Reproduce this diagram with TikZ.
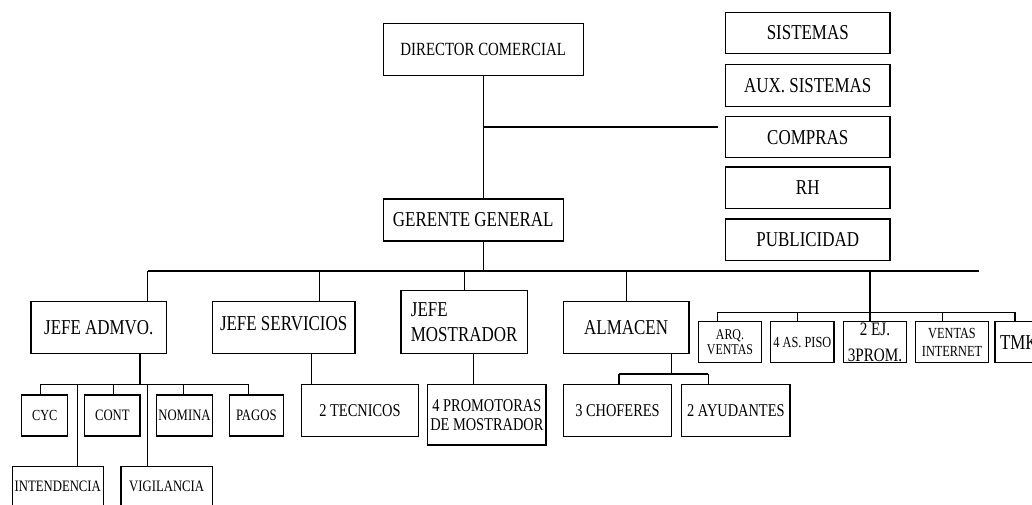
\documentclass[tikz,border=0pt]{standalone}
\usepackage{fontspec}
\setmainfont{Liberation Serif}[FakeStretch=0.8]
\newcommand\fsz[2]{\fontsize{#1}{#2}\selectfont}
\begin{document}
\begin{tikzpicture}[x=1pt,y=-1pt,
  box/.style={draw, line width=1.1pt, inner sep=0pt, align=center},
  conn/.style={line width=1.1pt},
  big/.style={font=\fsz{21.2}{25}},
  mid/.style={font=\fsz{18}{19}},
  sml/.style={font=\fsz{15.9}{18}}]
\useasboundingbox (0,0) rectangle (1032,504);
\clip (0,0) rectangle (1032,504);

% top level
\node[box, minimum width=199.7pt, minimum height=52pt, font=\fsz{18.6}{21}] (dir) at (483.2,49.25) {DIRECTOR COMERCIAL};
\node[box, big, minimum width=180pt, minimum height=42pt] (gg) at (473.3,220) {\raisebox{2pt}{GERENTE GENERAL}};

% staff column
\node[box, big, minimum width=164.5pt, minimum height=41pt] (sis) at (807.75,32.8) {SISTEMAS};
\node[box, big, minimum width=164.5pt, minimum height=41.7pt] (aux) at (807.75,85.2) {AUX. SISTEMAS};
\node[box, big, minimum width=164.5pt, minimum height=41pt] (com) at (807.75,137.1) {COMPRAS};
\node[box, big, minimum width=164.5pt, minimum height=41.5pt] (rh) at (807.75,187.75) {RH};
\node[box, big, minimum width=164.5pt, minimum height=41.5pt] (pub) at (807.75,239.75) {PUBLICIDAD};

% second level
\node[box, big, minimum width=135.7pt, minimum height=51.6pt] (adm) at (98.85,327.5) {\raisebox{-4pt}{JEFE ADMVO.}};
\node[box, big, minimum width=142.7pt, minimum height=51.6pt] (ser) at (283.65,327.5) {\raisebox{9pt}{JEFE SERVICIOS}};
\node[box, big, minimum width=126.3pt, minimum height=62.8pt, align=left] (mos) at (464.15,322.1) {JEFE\\MOSTRADOR};
\node[box, big, minimum width=125.7pt, minimum height=51.6pt] (alm) at (626.15,327.5) {ALMACEN};

% ventas group
\node[box, font=\fsz{14.9}{15}, minimum width=63.4pt, minimum height=41pt] (arq) at (730,342.2) {ARQ.\\VENTAS};
\node[box, font=\fsz{15.4}{17}, minimum width=63.3pt, minimum height=41pt] (piso) at (802.35,342.2) {4 AS. PISO};
\node[box, font=\fsz{19}{26}, minimum width=63.4pt, minimum height=41pt] (ej) at (875,342.2) {2 EJ.\\3PROM.};
\node[box, font=\fsz{15.4}{18.5}, minimum width=72.6pt, minimum height=41pt] (vin) at (952,342.2) {VENTAS\\INTERNET};
\node[box, font=\fsz{21.2}{24}, minimum width=65pt, minimum height=41pt, text width=55pt, align=left] (tmk) at (1027.5,342.2) {TMK};

% admvo children
\node[box, font=\fsz{15.4}{17}, minimum width=46pt, minimum height=41pt] (cyc) at (44.7,415.5) {CYC};
\node[box, sml, minimum width=55.3pt, minimum height=41pt] (cont) at (112.35,415.5) {CONT};
\node[box, sml, minimum width=55.6pt, minimum height=41pt] (nom) at (184.5,415.5) {NOMINA};
\node[box, sml, minimum width=54pt, minimum height=41pt] (pag) at (256.3,415.5) {PAGOS};
\node[box, sml, minimum width=91pt, minimum height=40pt] (int) at (57.8,486.7) {INTENDENCIA};
\node[box, sml, minimum width=91.3pt, minimum height=40pt] (vig) at (166.65,486.7) {VIGILANCIA};

% other children
\node[box, mid, minimum width=116.6pt, minimum height=52pt] (tec) at (360,410.3) {2 TECNICOS};
\node[box, mid, minimum width=118.3pt, minimum height=60.7pt] (pro) at (486.85,414.65) {4 PROMOTORAS\\DE MOSTRADOR};
\node[box, mid, minimum width=108.4pt, minimum height=52.4pt] (cho) at (617.5,410.5) {3 CHOFERES};
\node[box, mid, minimum width=108.3pt, minimum height=52.4pt] (ayu) at (735.85,410.5) {2 AYUDANTES};

% junction coordinates
\coordinate (jS) at (483.2,127);
\coordinate (jE) at (717.5,127);
\coordinate (busL) at (147.7,271);
\coordinate (busR) at (979,271);
\coordinate (dSer) at (319.3,271);
\coordinate (dAlm) at (626.7,271);
\coordinate (dVen) at (870,271);
\coordinate (vL) at (717.7,312.3);
\coordinate (vR) at (1015,312.3);
\coordinate (vPiso) at (797.7,312.3);
\coordinate (vVin) at (942.3,312.3);
\coordinate (aJ) at (140,384.3);
\coordinate (aL) at (40.7,384.3);
\coordinate (aR) at (248.3,384.3);
\coordinate (aInt) at (77.3,384.3);
\coordinate (aCon) at (113.3,384.3);
\coordinate (aVig) at (147.7,384.3);
\coordinate (aNom) at (183.3,384.3);
\coordinate (sJ) at (311.7,384.3);
\coordinate (mJ) at (473.3,384.3);
\coordinate (cJ) at (671.7,374);
\coordinate (cL) at (619,374);
\coordinate (cR) at (708.3,374);

% connectors
\draw[conn] (dir.south) -- (dir.south |- gg.north);
\draw[conn] (jS) -- (jE);
\draw[conn] (dir.south |- gg.south) -- (dir.south |- busL);
\draw[conn] (busL) -- (busR);
\draw[conn] (busL) -- (busL |- adm.north);
\draw[conn] (dSer) -- (dSer |- ser.north);
\draw[conn] (mos.north |- busL) -- (mos.north);
\draw[conn] (dAlm) -- (dAlm |- alm.north);
\draw[conn] (dVen) -- (dVen |- ej.north);
\draw[conn] (vL) -- (vR);
\draw[conn] (vL) -- (vL |- arq.north);
\draw[conn] (vPiso) -- (vPiso |- piso.north);
\draw[conn] (vVin) -- (vVin |- vin.north);
\draw[conn] (vR) -- (vR |- tmk.north);
% admvo
\draw[conn] (aJ |- adm.south) -- (aJ);
\draw[conn] (aL) -- (aR);
\draw[conn] (aL) -- (aL |- cyc.north);
\draw[conn] (aCon) -- (aCon |- cont.north);
\draw[conn] (aNom) -- (aNom |- nom.north);
\draw[conn] (aR) -- (aR |- pag.north);
\draw[conn] (aInt) -- (aInt |- int.north);
\draw[conn] (aVig) -- (aVig |- vig.north);
% servicios, mostrador
\draw[conn] (sJ |- ser.south) -- (sJ);
\draw[conn] (mJ |- mos.south) -- (mJ);
% almacen
\draw[conn] (cJ |- alm.south) -- (cJ);
\draw[conn] (cL) -- (cR);
\draw[conn] (cL) -- (cL |- cho.north);
\draw[conn] (cR) -- (cR |- ayu.north);
\end{tikzpicture}
\end{document}
